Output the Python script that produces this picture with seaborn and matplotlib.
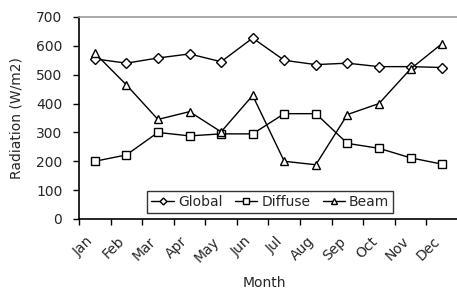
import numpy as np
import pandas as pd
import matplotlib
matplotlib.use("Agg")
import matplotlib.pyplot as plt
import matplotlib.transforms as mtransforms
import seaborn as sns

months = ["Jan", "Feb", "Mar", "Apr", "May", "Jun", "Jul", "Aug", "Sep", "Oct", "Nov", "Dec"]
global_rad = [555, 540, 558, 572, 545, 627, 550, 535, 540, 528, 528, 525]
diffuse_rad = [200, 222, 300, 288, 295, 295, 365, 365, 262, 245, 212, 190]
beam_rad = [575, 465, 345, 372, 302, 428, 200, 188, 362, 400, 520, 608]
series_names = ["Global", "Diffuse", "Beam"]

sns.set_style("white")
plt.rcParams['font.family'] = ['DejaVu Sans']

rows = []
for name, vals in zip(series_names, [global_rad, diffuse_rad, beam_rad]):
    for i, v in enumerate(vals):
        rows.append({"idx": i, "Month": months[i], "value": v, "series": name})
df = pd.DataFrame(rows)

fig = plt.figure(figsize=(4.57, 2.92), dpi=100)
ax = fig.add_axes([79/457, 1-219/292, 1 - 79/457 + 0.002, (219-17)/292])

sns.lineplot(data=df, x="idx", y="value", hue="series", style="series",
             hue_order=series_names, style_order=series_names,
             palette=["black"]*3, markers={"Global": "D", "Diffuse": "s", "Beam": "^"},
             dashes=False, legend=False, ax=ax, linewidth=1.0,
             markersize=6, markerfacecolor="white", markeredgecolor="black",
             markeredgewidth=1.0)
ax.lines[0].set_markersize(5)

ax.set_xlim(-0.5, 11.5)
ax.set_ylim(0, 700)
ax.set_yticks(np.arange(0, 701, 100))
ax.set_xticks(range(12))
ax.set_xticklabels(months, rotation=45, ha="right", rotation_mode="anchor")
ax.set_xticks(np.arange(-0.5, 12, 1), minor=True)
ax.tick_params(axis="x", which="major", length=0, pad=11, labelsize=10)
ax.tick_params(axis="x", which="minor", length=4, width=1, direction="out", color="black")
ax.tick_params(axis="y", which="major", length=4, width=1, direction="out", labelsize=10, pad=8, color="black")
ax.tick_params(bottom=True, left=True, which="both")

offset = mtransforms.ScaledTranslation(-9/100, 0/100, fig.dpi_scale_trans)
for lab in ax.get_xticklabels():
    lab.set_transform(lab.get_transform() + offset)

for s in ["left", "bottom"]:
    ax.spines[s].set_color("black")
    ax.spines[s].set_linewidth(1.2)
ax.spines["top"].set_color("#999999")
ax.spines["top"].set_linewidth(1.2)
ax.spines["right"].set_visible(False)

ax.set_xlabel("Month", fontsize=10, labelpad=6)
ax.xaxis.set_label_coords(0.49, -0.28)
ax.set_ylabel("Radiation (W/m2)", fontsize=10, labelpad=9)

leg = ax.legend(handles=ax.lines[:3], labels=series_names, ncol=3,
                loc="lower center", bbox_to_anchor=(0.505, 0.015),
                frameon=True, fancybox=False, edgecolor="black",
                fontsize=10, handlelength=1.6, handletextpad=0.3,
                columnspacing=0.9, borderpad=0.3, borderaxespad=0.2,
                markerscale=0.7)
leg.get_frame().set_linewidth(1.0)

fig.savefig("out.png", dpi=100)
